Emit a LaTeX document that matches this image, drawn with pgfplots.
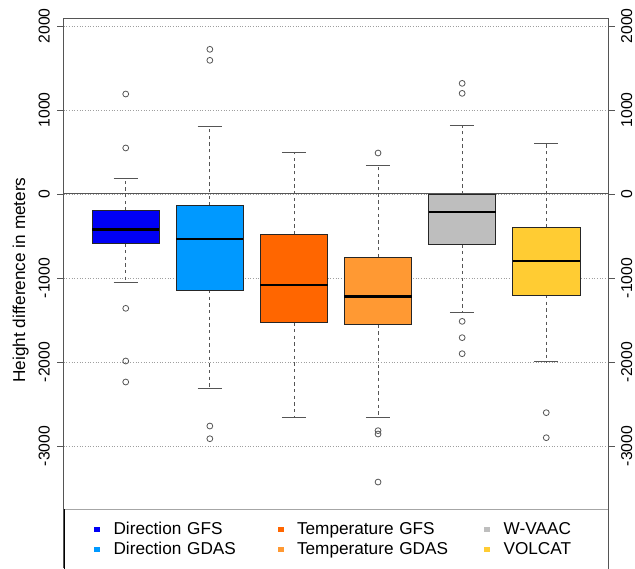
\documentclass[border=0pt]{standalone}
\usepackage{fontspec}
\setmainfont{Liberation Sans}
\usepackage{pgfplots}
\pgfplotsset{compat=1.18}
\usepgfplotslibrary{statistics}

\definecolor{dirgfs}{HTML}{0000F5}
\definecolor{dirgdas}{HTML}{0099FF}
\definecolor{tmpgfs}{HTML}{FF6600}
\definecolor{tmpgdas}{HTML}{FF9933}
\definecolor{wvaac}{HTML}{BEBEBE}
\definecolor{volcat}{HTML}{FFCC33}
\definecolor{axgray}{HTML}{555555}

\pgfplotsset{
  sq/.style={legend image code/.code={%
    \path[draw=none, fill=none] (-2.15pt,0pt) -- (12.2pt,0pt);
    \fill[#1, draw=none] (-2.15pt,-2.15pt) rectangle (2.15pt,2.15pt);}},
  bx/.style={boxplot/every box/.style={draw=black!85, line width=0.6pt, fill=#1}},
  common/.style={
    at={(47.625pt,0pt)}, anchor=south west,
    scale only axis, width=408.75pt, height=412.5pt,
    xmin=0.26, xmax=6.74, ymin=-4452, ymax=2095,
    xtick=\empty,
    ytick={-3000,-2000,-1000,0,1000,2000},
    scaled y ticks=false,
    /pgf/number format/assume math mode=true,
    /pgf/number format/1000 sep={},
    tick align=outside, major tick length=4.5pt,
    axis line style={axgray, line width=0.6pt},
    every tick/.style={axgray, line width=0.6pt},
  },
}

\begin{document}
\begin{tikzpicture}
\path[use as bounding box] (0,0) rectangle (476.25pt,426pt);
\begin{axis}[common,
  axis x line*=top, axis y line*=left, ytick pos=left,
  yticklabel style={font=\fontsize{11.8}{14}\selectfont, inner sep=0pt,
    xshift=-5.6pt, rotate=90, anchor=south},
  ymajorgrids,
  major grid style={gray!75, dash pattern=on 0.6pt off 1.4pt, line width=0.5pt},
  ylabel={Height difference in meters},
  every axis y label/.style={at={(rel axis cs:-0.07064,0.52364)}, rotate=90, anchor=base,
    font=\fontsize{12.9}{15}\selectfont},
  boxplot/draw direction=y,
  boxplot/box extend=0.8,
  boxplot/whisker extend=0.29,
  boxplot/every median/.style={draw=black, line width=2.2pt},
  boxplot/every whisker/.style={axgray, line width=0.6pt},
  boxplot/draw/lower whisker/.code={%
    \draw[/pgfplots/boxplot/every whisker/.try, dash pattern=on 2.5pt off 2.5pt]
      (boxplot box cs:\pgfplotsboxplotvalue{lower quartile},0.5) --
      (boxplot box cs:\pgfplotsboxplotvalue{lower whisker},0.5);
    \draw[/pgfplots/boxplot/every whisker/.try]
      (boxplot whisker cs:\pgfplotsboxplotvalue{lower whisker},0) --
      (boxplot whisker cs:\pgfplotsboxplotvalue{lower whisker},1);
  },
  boxplot/draw/upper whisker/.code={%
    \draw[/pgfplots/boxplot/every whisker/.try, dash pattern=on 2.5pt off 2.5pt]
      (boxplot box cs:\pgfplotsboxplotvalue{upper quartile},0.5) --
      (boxplot box cs:\pgfplotsboxplotvalue{upper whisker},0.5);
    \draw[/pgfplots/boxplot/every whisker/.try]
      (boxplot whisker cs:\pgfplotsboxplotvalue{upper whisker},0) --
      (boxplot whisker cs:\pgfplotsboxplotvalue{upper whisker},1);
  },
  legend columns=3,
  legend style={at={(rel axis cs:0.05675,0.08836)}, anchor=north west,
    draw=none, fill=none, inner sep=0pt, outer sep=0pt,
    font=\fontsize{12.9}{15}\selectfont,
    nodes={inner sep=0pt, text height=11pt, text depth=4pt},
    /tikz/every odd column/.style={column sep=0pt},
    /tikz/every even column/.style={column sep=0pt},
    /tikz/column 2/.style={nodes={text width=123.25pt, align=left}},
    /tikz/column 4/.style={nodes={text width=140.55pt, align=left}},
  },
]
% zero reference line
\addplot[axgray, line width=0.75pt, forget plot] coordinates {(0.26,0) (6.74,0)};

\addplot[forget plot, bx=dirgfs, mark=o, mark size=2.2pt, mark options={axgray, line width=0.6pt},
  boxplot prepared={draw position=1, lower whisker=-1048, lower quartile=-587,
    median=-420, upper quartile=-199, upper whisker=182}]
  table[row sep=\\, y index=0] {y\\ 1190\\ 548\\ -1361\\ -1988\\ -2238\\};
\addplot[forget plot, bx=dirgdas, mark=o, mark size=2.2pt, mark options={axgray, line width=0.6pt},
  boxplot prepared={draw position=2, lower whisker=-2313, lower quartile=-1143,
    median=-536, upper quartile=-139, upper whisker=801}]
  table[row sep=\\, y index=0] {y\\ 1722\\ 1591\\ -2762\\ -2913\\};
\addplot[forget plot, bx=tmpgfs, mark=o, mark size=2.2pt, mark options={axgray, line width=0.6pt},
  boxplot prepared={draw position=3, lower whisker=-2659, lower quartile=-1528,
    median=-1083, upper quartile=-480, upper whisker=492}]
  coordinates {};
\addplot[forget plot, bx=tmpgdas, mark=o, mark size=2.2pt, mark options={axgray, line width=0.6pt},
  boxplot prepared={draw position=4, lower whisker=-2659, lower quartile=-1556,
    median=-1218, upper quartile=-750, upper whisker=337}]
  table[row sep=\\, y index=0] {y\\ 488\\ -2817\\ -2857\\ -3429\\};
\addplot[forget plot, bx=wvaac, mark=o, mark size=2.2pt, mark options={axgray, line width=0.6pt},
  boxplot prepared={draw position=5, lower whisker=-1409, lower quartile=-599,
    median=-214, upper quartile=-4, upper whisker=817}]
  table[row sep=\\, y index=0] {y\\ 1317\\ 1198\\ -1516\\ -1710\\ -1901\\};
\addplot[forget plot, bx=volcat, mark=o, mark size=2.2pt, mark options={axgray, line width=0.6pt},
  boxplot prepared={draw position=6, lower whisker=-1996, lower quartile=-1202,
    median=-798, upper quartile=-401, upper whisker=603}]
  table[row sep=\\, y index=0] {y\\ -2603\\ -2901\\};

% legend frame
\fill[white] (rel axis cs:0.001835,-0.1) rectangle (rel axis cs:0.99963,0.10673);
\draw[gray!70, line width=0.75pt] (rel axis cs:0.001835,0.10673) -- (rel axis cs:0.99963,0.10673);
\draw[black, line width=0.75pt] (rel axis cs:0.001835,-0.1) -- (rel axis cs:0.001835,0.10673);
\draw[black, line width=0.75pt] (rel axis cs:0.99963,-0.1) -- (rel axis cs:0.99963,0.10673);

\addlegendimage{sq=dirgfs}\addlegendentry{Direction GFS}
\addlegendimage{sq=tmpgfs}\addlegendentry{Temperature GFS}
\addlegendimage{sq=wvaac}\addlegendentry{W-VAAC}
\addlegendimage{sq=dirgdas}\addlegendentry{Direction GDAS}
\addlegendimage{sq=tmpgdas}\addlegendentry{Temperature GDAS}
\addlegendimage{sq=volcat}\addlegendentry{VOLCAT}
\end{axis}

\begin{axis}[common,
  axis x line=none, axis y line*=right, ytick pos=right, yticklabel pos=right,
  yticklabel style={font=\fontsize{11.8}{14}\selectfont, inner sep=0pt,
    xshift=4.8pt, rotate=90, anchor=north}]
\addplot[draw=none, forget plot] coordinates {(1,0)};
\end{axis}
\end{tikzpicture}
\end{document}
